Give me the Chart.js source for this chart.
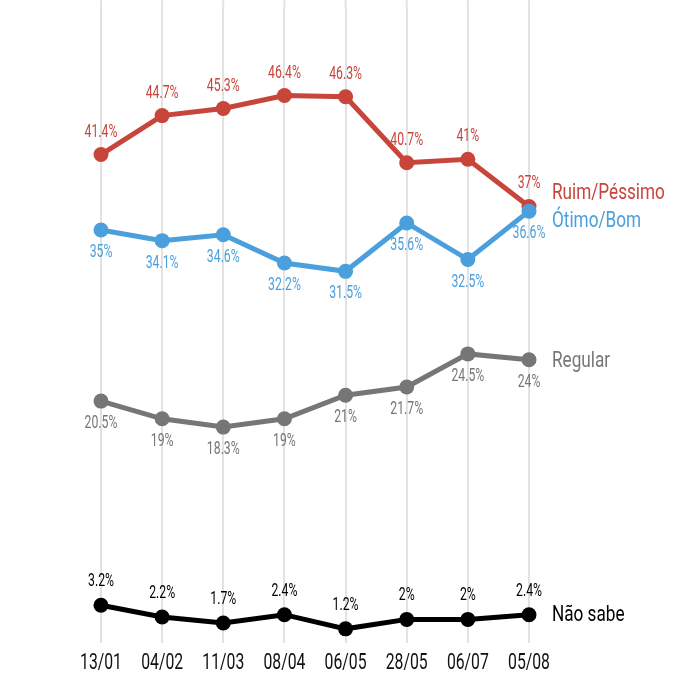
<!DOCTYPE html>
<html>
<head>
<meta charset="utf-8">
<script src="https://cdn.jsdelivr.net/npm/chart.js@4/dist/chart.umd.min.js"></script>
<style>
html,body{margin:0;padding:0;background:#fff;}
#wrap{width:695px;height:690px;}
</style>
</head>
<body>
<div id="wrap"><canvas id="c" width="695" height="690"></canvas></div>
<script>
const categories = ['13/01','04/02','11/03','08/04','06/05','28/05','06/07','05/08'];
const ruimPessimo = [41.4, 44.7, 45.3, 46.4, 46.3, 40.7, 41, 37];
const otimoBom = [35, 34.1, 34.6, 32.2, 31.5, 35.6, 32.5, 36.6];
const regular = [20.5, 19, 18.3, 19, 21, 21.7, 24.5, 24];
const naoSabe = [3.2, 2.2, 1.7, 2.4, 1.2, 2, 2, 2.4];
const seriesNames = ['Ótimo/Bom', 'Ruim/Péssimo', 'Regular', 'Não sabe'];

const FONT = 'Roboto, "Liberation Sans", sans-serif';
const RED = '#c8453b', BLUE = '#4a9fdc', GRAY = '#767676', BLACK = '#000000';

function mk(label, data, color, labelDy, nameDy) {
  return {
    label, data,
    borderColor: color, backgroundColor: color,
    pointBackgroundColor: color, pointBorderColor: color,
    borderWidth: 5, pointRadius: 7.5, pointHoverRadius: 7.5, pointBorderWidth: 0,
    tension: 0, clip: false,
    labelDy, nameDy
  };
}

function drawText(ctx, text, x, y, size, sx, align) {
  ctx.save();
  ctx.font = size + 'px ' + FONT;
  ctx.textBaseline = 'alphabetic';
  ctx.textAlign = align;
  ctx.translate(x, y);
  ctx.scale(sx, 1);
  ctx.fillText(text, 0, 0);
  ctx.restore();
}

const gridExtend = {
  id: 'gridExtend',
  beforeDatasetsDraw(chart) {
    const ctx = chart.ctx, xs = chart.scales.x, top = chart.chartArea.top;
    ctx.save();
    ctx.strokeStyle = '#e2e2e2';
    ctx.lineWidth = 2;
    categories.forEach((c, i) => {
      const x = xs.getPixelForValue(i);
      ctx.beginPath(); ctx.moveTo(x, 0); ctx.lineTo(x, top); ctx.stroke();
    });
    ctx.restore();
  },
  afterDraw(chart) {
    const ctx = chart.ctx, xs = chart.scales.x;
    ctx.save();
    ctx.fillStyle = '#111';
    categories.forEach((c, i) => {
      drawText(ctx, xs.getLabelForValue(i), xs.getPixelForValue(i), chart.chartArea.bottom + 26, 22.5, 0.7, 'center');
    });
    ctx.restore();
  }
};

const labelPlugin = {
  id: 'labels',
  afterDatasetsDraw(chart) {
    const ctx = chart.ctx;
    chart.data.datasets.forEach((ds, i) => {
      const meta = chart.getDatasetMeta(i);
      ctx.save();
      ctx.fillStyle = ds.borderColor;
      meta.data.forEach((pt, j) => {
        drawText(ctx, ds.data[j] + '%', pt.x, pt.y + ds.labelDy, 17.5, 0.7, 'center');
      });
      const last = meta.data[meta.data.length - 1];
      drawText(ctx, ds.label, last.x + 23, last.y + ds.nameDy, 22, 0.78, 'left');
      ctx.restore();
    });
  }
};

new Chart(document.getElementById('c'), {
  type: 'line',
  data: {
    labels: categories,
    datasets: [
      mk(seriesNames[0], otimoBom, BLUE, 27, 16),
      mk(seriesNames[1], ruimPessimo, RED, -18, -7),
      mk(seriesNames[2], regular, GRAY, 27, 7),
      mk(seriesNames[3], naoSabe, BLACK, -19, 6)
    ]
  },
  options: {
    responsive: false,
    animation: false,
    events: [],
    layout: { padding: { left: 101, right: 166, top: 0, bottom: 47 } },
    plugins: { legend: { display: false }, tooltip: { enabled: false } },
    scales: {
      x: {
        offset: false,
        grid: { display: true, color: '#e2e2e2', lineWidth: 2, drawTicks: false },
        border: { display: false },
        ticks: { display: false }
      },
      y: {
        display: false,
        min: 0, max: 53.86
      }
    }
  },
  plugins: [gridExtend, labelPlugin]
});
</script>
</body>
</html>
